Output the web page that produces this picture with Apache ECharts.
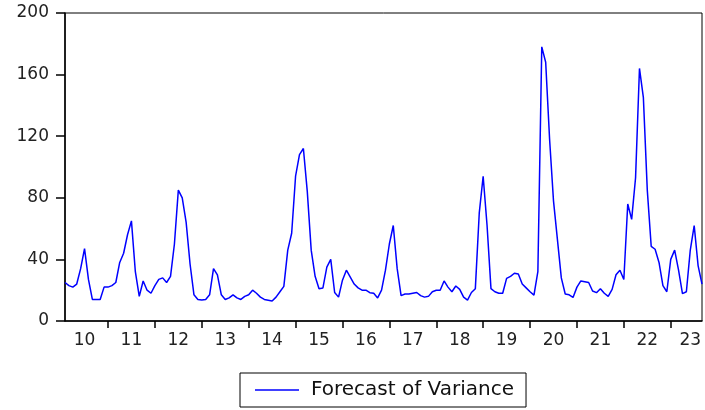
<!DOCTYPE html>
<html>
<head>
<meta charset="utf-8">
<script src="https://cdn.jsdelivr.net/npm/echarts@6/dist/echarts.min.js"></script>
<style>
html,body{margin:0;padding:0;background:#fff;}
#chart{width:705px;height:410px;}
</style>
</head>
<body>
<div id="chart"></div>
<script>
// Monthly values, Feb 2010 .. Sep 2023
var v2010 = [25, 23, 22, 24, 34, 47, 27, 14, 14, 14, 22];
var v2011 = [22, 23, 25, 38, 44, 56, 65, 32, 16, 26, 20, 18];
var v2012 = [23, 27, 28, 25, 29, 50, 85, 80, 64, 37, 17, 14];
var v2013 = [13.6, 14, 17, 34, 30, 17, 14, 15, 17, 15, 14, 16];
var v2014 = [17, 20, 18, 15.5, 14, 13.5, 13, 15.5, 19, 22.5, 46, 57];
var v2015 = [94, 108, 112, 84, 46, 29, 21, 21.5, 35, 40, 18.5, 15.5];
var v2016 = [26.5, 33, 28.5, 24, 21.5, 20, 20, 18.4, 18, 15, 20, 33];
var v2017 = [50, 62, 34, 16.5, 17.5, 17.5, 18, 18.5, 16.5, 15.5, 16, 19];
var v2018 = [20, 20, 26, 22, 19, 22.7, 20.5, 15.5, 13.6, 18.5, 21, 70];
var v2019 = [94, 62, 21, 19, 18, 18, 27.7, 29, 31, 30.5, 24, 21.5];
var v2020 = [19, 16.8, 32, 178, 168, 118, 78, 53, 28, 17.5, 17, 15.3];
var v2021 = [22, 26, 25.5, 25, 19.5, 18.4, 21, 18, 16, 20.5, 30, 33];
var v2022 = [27, 76, 66, 93, 164, 145, 85, 48.5, 46.6, 38, 23, 19];
var v2023 = [40, 46, 33, 17.8, 19, 46, 62, 36, 24];

var years = [2010, 2011, 2012, 2013, 2014, 2015, 2016, 2017, 2018, 2019, 2020, 2021, 2022, 2023];
var yearLabels = ['10', '11', '12', '13', '14', '15', '16', '17', '18', '19', '20', '21', '22', '23'];
var yTicks = [0, 40, 80, 120, 160, 200];
var seriesName = 'Forecast of Variance';

var byYear = [v2010, v2011, v2012, v2013, v2014, v2015, v2016, v2017, v2018, v2019, v2020, v2021, v2022, v2023];
var categories = [];
var values = [];
var tickIdx = {};
var labelIdx = {};
byYear.forEach(function (arr, k) {
  var startMonth = (k === 0) ? 2 : 1;
  arr.forEach(function (v, j) {
    var m = startMonth + j;
    var idx = categories.length;
    categories.push(years[k] + 'M' + (m < 10 ? '0' + m : m));
    values.push(v);
    if (m === 1) tickIdx[idx] = true;
    if (k < byYear.length - 1 && m === 7) labelIdx[idx] = yearLabels[k];
    if (k === byYear.length - 1 && m === 6) labelIdx[idx] = yearLabels[k];
  });
});

var font = 'DejaVu Sans';
var chart = echarts.init(document.getElementById('chart'), null, {renderer: 'canvas'});
chart.setOption({
  animation: false,
  backgroundColor: '#ffffff',
  grid: {
    left: 65, top: 13, right: 3, bottom: 89,
    show: true, borderColor: '#000', borderWidth: 1,
    outerBoundsMode: 'none'
  },
  xAxis: {
    type: 'category',
    data: categories,
    boundaryGap: false,
    axisLine: {show: true, lineStyle: {color: '#000', width: 1.5}},
    axisTick: {
      show: true, inside: false, length: 7,
      lineStyle: {color: '#000', width: 1.5},
      interval: function (i) { return !!tickIdx[i]; }
    },
    axisLabel: {
      show: true,
      margin: 11,
      color: '#222',
      fontFamily: font,
      fontSize: 17,
      interval: function (i) { return labelIdx[i] !== undefined; },
      formatter: function (v, i) { return labelIdx[i] || ''; }
    },
    splitLine: {show: false}
  },
  yAxis: {
    type: 'value',
    min: yTicks[0], max: yTicks[yTicks.length - 1], interval: 40,
    axisLine: {show: true, lineStyle: {color: '#000', width: 1.5}},
    axisTick: {show: true, inside: false, length: 9, lineStyle: {color: '#000', width: 1.5}},
    axisLabel: {color: '#222', fontFamily: font, fontSize: 17, margin: 16},
    splitLine: {show: false}
  },
  legend: {
    show: true,
    left: 240, top: 373,
    padding: [7, 12, 7, 15],
    borderColor: '#000', borderWidth: 1,
    backgroundColor: '#fff',
    icon: 'rect',
    itemWidth: 44, itemHeight: 1.4,
    itemStyle: {color: '#0000ff'},
    textStyle: {fontFamily: font, fontSize: 20, color: '#111', padding: [0, 0, 0, 7]},
    data: [seriesName]
  },
  series: [{
    name: seriesName,
    type: 'line',
    data: values,
    symbol: 'none',
    showSymbol: false,
    lineStyle: {color: '#0000ff', width: 1.5},
    itemStyle: {color: '#0000ff'}
  }]
});
</script>
</body>
</html>
